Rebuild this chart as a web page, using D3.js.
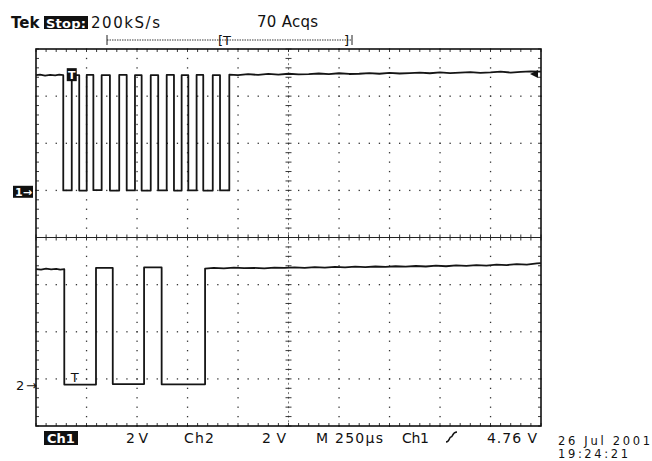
<!DOCTYPE html>
<html>
<head>
<meta charset="utf-8">
<script src="https://cdn.jsdelivr.net/npm/d3@7"></script>
<style>
  body { margin: 0; background: #fff; }
  svg { display: block; font-family: "DejaVu Sans", sans-serif; }
</style>
</head>
<body>
<div id="scope"></div>
<script>
// Time base: 250 µs/div, 10 divs. Both channels 2 V/div.
const timeDomain = [0, 2500];
const voltsPerDiv = 2;

// Channel 1: ground marker offset (divs from centre), edge times (µs), levels (V)
const ch1Offset = 0.97;
const ch1Edges = [135, 177, 214, 251, 284, 325, 366, 412, 449, 490, 523, 568,
                  605, 647, 683, 721, 754, 795, 828, 875, 911, 957];
const ch1High = [4.95, 4.96, 4.95, 4.96, 4.95, 4.95, 4.96, 4.95, 4.96, 4.95, 4.96];
const ch1Low = [0.06, 0.05, 0.07, 0.05, 0.06, 0.05, 0.06, 0.05, 0.06, 0.05, 0.06];
const ch1Lead = [[0, 4.95], [20, 4.97], [45, 4.93], [70, 4.96], [95, 4.94], [115, 4.97], [135, 4.95]];
const ch1Tail = [[957, 4.97], [1000, 4.95], [1050, 4.99], [1100, 4.96], [1150, 5.0], [1200, 4.97],
  [1250, 5.01], [1300, 4.98], [1350, 4.99], [1400, 5.02], [1450, 4.99], [1500, 5.03],
  [1550, 5.0], [1600, 5.01], [1650, 5.04], [1700, 5.01], [1750, 5.05], [1800, 5.02],
  [1850, 5.04], [1900, 5.06], [1950, 5.03], [2000, 5.07], [2050, 5.04], [2100, 5.06],
  [2150, 5.08], [2200, 5.05], [2250, 5.07], [2300, 5.1], [2350, 5.06], [2400, 5.09],
  [2450, 5.11], [2500, 5.1]];

// Channel 2
const ch2Offset = -3.12;
const ch2Edges = [140, 297, 380, 535, 622, 837];
const ch2High = [4.95, 4.97];
const ch2Low = [0.0, 0.02, 0.01];
const ch2Lead = [[0, 4.9], [25, 4.88], [50, 4.92], [75, 4.89], [100, 4.91], [120, 4.88], [140, 4.9]];
const ch2Tail = [[837, 4.92], [880, 4.95], [930, 4.93], [980, 4.96], [1030, 4.94], [1080, 4.95],
  [1130, 4.93], [1180, 4.96], [1230, 4.95], [1280, 4.97], [1330, 4.95], [1380, 4.98],
  [1430, 4.96], [1480, 4.99], [1530, 4.97], [1580, 5.0], [1630, 4.98], [1680, 5.01],
  [1730, 4.99], [1780, 5.02], [1830, 5.0], [1880, 5.03], [1930, 5.01], [1980, 5.05],
  [2030, 5.02], [2080, 5.06], [2130, 5.04], [2180, 5.07], [2230, 5.05], [2280, 5.09],
  [2330, 5.07], [2380, 5.11], [2430, 5.09], [2480, 5.14], [2500, 5.15]];

const triggerLevel = 5.0;

// Text labels
const header = { brand: "Tek", state: "Stop:", rate: "200kS/s", acqs: "70 Acqs" };
const footer = ["2 V", "Ch2", "2 V", "M 250µs", "Ch1", "4.76 V"];
const stamp = ["26 Jul 2001", "19:24:21"];

const width = 652;
const height = 461;
const plotLeft = 36, plotRight = 541, plotTop = 49, plotBottom = 426;

const x = d3.scaleLinear().domain(timeDomain).range([plotLeft, plotRight]);
const yDiv = d3.scaleLinear().domain([-4, 4]).range([plotBottom, plotTop]);
const y1 = v => yDiv(ch1Offset + v / voltsPerDiv);
const y2 = v => yDiv(ch2Offset + v / voltsPerDiv);

const svg = d3.select("#scope").append("svg")
  .attr("width", width)
  .attr("height", height)
  .attr("viewBox", [0, 0, width, height]);

svg.append("rect").attr("width", width).attr("height", height).attr("fill", "#fff");

// Graticule
const grid = svg.append("g").attr("fill", "#333");
const subX = d3.range(0, 10.001, 0.2);
const subY = d3.range(-4, 4.001, 0.2);
const divX = (k) => plotLeft + (plotRight - plotLeft) * k / 10;
// dotted verticals
for (let k = 1; k < 10; k++) {
  if (k === 5) continue;
  grid.selectAll(null).data(subY).join("rect")
    .attr("x", divX(k) - 0.6).attr("y", d => yDiv(d) - 0.6)
    .attr("width", 1.3).attr("height", 1.3);
}
// dotted horizontals
for (let k = -3; k <= 3; k++) {
  if (k === 0) continue;
  grid.selectAll(null).data(subX).join("rect")
    .attr("x", d => divX(d) - 0.6).attr("y", yDiv(k) - 0.6)
    .attr("width", 1.3).attr("height", 1.3);
}

const lines = svg.append("g").attr("stroke", "#222").attr("fill", "none");
// centre cross with ticks
const cx = divX(5), cy = yDiv(0);
lines.append("line").attr("x1", plotLeft).attr("x2", plotRight).attr("y1", cy).attr("y2", cy).attr("stroke-width", 1);
lines.append("line").attr("x1", cx).attr("x2", cx).attr("y1", plotTop).attr("y2", plotBottom)
  .attr("stroke-width", 0.8).attr("stroke", "#555").attr("stroke-dasharray", "2,2.7");
lines.selectAll(null).data(subX).join("line")
  .attr("x1", d => divX(d)).attr("x2", d => divX(d))
  .attr("y1", cy - 3).attr("y2", cy + 3).attr("stroke-width", 0.9);
lines.selectAll(null).data(subY).join("line")
  .attr("y1", d => yDiv(d)).attr("y2", d => yDiv(d))
  .attr("x1", cx - 3).attr("x2", cx + 3).attr("stroke-width", 0.9);
// border ticks
lines.selectAll(null).data(subX).join("line")
  .attr("x1", d => divX(d)).attr("x2", d => divX(d))
  .attr("y1", plotTop).attr("y2", plotTop + 3).attr("stroke-width", 0.9);
lines.selectAll(null).data(subX).join("line")
  .attr("x1", d => divX(d)).attr("x2", d => divX(d))
  .attr("y1", plotBottom).attr("y2", plotBottom - 3).attr("stroke-width", 0.9);
lines.selectAll(null).data(subY).join("line")
  .attr("y1", d => yDiv(d)).attr("y2", d => yDiv(d))
  .attr("x1", plotLeft).attr("x2", plotLeft + 3).attr("stroke-width", 0.9);
lines.selectAll(null).data(subY).join("line")
  .attr("y1", d => yDiv(d)).attr("y2", d => yDiv(d))
  .attr("x1", plotRight).attr("x2", plotRight - 3).attr("stroke-width", 0.9);
lines.append("rect")
  .attr("x", plotLeft).attr("y", plotTop)
  .attr("width", plotRight - plotLeft).attr("height", plotBottom - plotTop)
  .attr("stroke", "#111").attr("stroke-width", 1.6);

// Build a stepped trace from lead readings, edges and tail readings
function buildTrace(lead, edges, highs, lows, tail) {
  const pts = lead.slice(0, -1);
  let high = true, hi = 0, lo = 0;
  edges.forEach((t, i) => {
    const before = i === 0 ? lead[lead.length - 1][1] : (high ? highs[hi - 1] : lows[lo - 1]);
    let after;
    if (i === edges.length - 1) after = tail[0][1];
    else if (high) after = lows[lo++];
    else after = highs[hi++];
    pts.push([t, before], [t, after]);
    high = !high;
  });
  return pts.concat(tail.slice(1));
}

const trace1 = buildTrace(ch1Lead, ch1Edges, ch1High, ch1Low, ch1Tail);
const trace2 = buildTrace(ch2Lead, ch2Edges, ch2High, ch2Low, ch2Tail);

const traces = svg.append("g")
  .attr("fill", "none")
  .attr("stroke", "#151515")
  .attr("stroke-width", 1.8)
  .attr("stroke-linejoin", "round");
traces.append("path").attr("d", d3.line(d => x(d[0]), d => y1(d[1]))(trace1));
traces.append("path").attr("d", d3.line(d => x(d[0]), d => y2(d[1]))(trace2));

// Trigger markers on traces
const tx = x(ch1Edges[1]) - 5;
svg.append("rect").attr("x", tx).attr("y", y1(ch1High[0]) - 7).attr("width", 10).attr("height", 13).attr("fill", "#111");
svg.append("text").attr("x", tx + 5).attr("y", y1(ch1High[0]) + 4).attr("text-anchor", "middle")
  .attr("fill", "#fff").attr("font-size", 11).attr("font-weight", "bold").text("T");
svg.append("text").attr("x", x(ch1Edges[1]) + 3).attr("y", y2(ch2Low[0]) - 3).attr("text-anchor", "middle")
  .attr("fill", "#111").attr("font-size", 13).text("T");
// trigger level arrow on right edge
const ty = y1(triggerLevel);
svg.append("path").attr("d", `M${plotRight - 11},${ty} L${plotRight - 3},${ty - 4} L${plotRight - 3},${ty + 4} Z`).attr("fill", "#111");

// Ground markers
const g1 = y1(0), g2 = y2(0);
svg.append("rect").attr("x", 13).attr("y", g1 - 6).attr("width", 20).attr("height", 12).attr("fill", "#111");
svg.append("text").attr("x", 15).attr("y", g1 + 4.5).attr("fill", "#fff").attr("font-size", 11)
  .attr("font-weight", "bold").text("1→");
svg.append("text").attr("x", 16).attr("y", g2 + 5).attr("fill", "#111").attr("font-size", 13)
  .attr("textLength", 21).text("2→");

// Header
svg.append("text").attr("x", 11).attr("y", 28).attr("font-size", 15).attr("font-weight", "bold")
  .attr("fill", "#111").text(header.brand);
svg.append("rect").attr("x", 44).attr("y", 16).attr("width", 44).attr("height", 13).attr("fill", "#111");
svg.append("text").attr("x", 46).attr("y", 27.5).attr("font-size", 13)
  .attr("font-weight", "bold").attr("fill", "#fff").attr("textLength", 40).text(header.state);
svg.append("text").attr("x", 91).attr("y", 28).attr("font-size", 15).attr("fill", "#111")
  .attr("textLength", 69).text(header.rate);
svg.append("text").attr("x", 257).attr("y", 27).attr("font-size", 15).attr("fill", "#111")
  .attr("textLength", 61).text(header.acqs);

// Record bar
const bar = svg.append("g").attr("stroke", "#222").attr("fill", "none");
bar.append("line").attr("x1", 107).attr("x2", 352).attr("y1", 40).attr("y2", 40)
  .attr("stroke-width", 0.9).attr("stroke-dasharray", "1.5,1");
bar.append("line").attr("x1", 107).attr("x2", 107).attr("y1", 35).attr("y2", 45).attr("stroke-width", 1);
bar.append("line").attr("x1", 352).attr("x2", 352).attr("y1", 35).attr("y2", 45).attr("stroke-width", 1);
svg.append("text").attr("x", 218).attr("y", 45).attr("font-size", 13).attr("fill", "#111").text("[T");
svg.append("text").attr("x", 344).attr("y", 45).attr("font-size", 13).attr("fill", "#111").text("]");

// Footer
svg.append("rect").attr("x", 44).attr("y", 431).attr("width", 34).attr("height", 14).attr("fill", "#111");
svg.append("text").attr("x", 61).attr("y", 443).attr("text-anchor", "middle").attr("font-size", 13)
  .attr("font-weight", "bold").attr("fill", "#fff").text("Ch1");
const footX = [126, 184, 262, 316, 402, 487];
const footW = [22, 30, 24, 67, 27, 50];
footer.forEach((t, i) => {
  svg.append("text").attr("x", footX[i]).attr("y", 443).attr("font-size", 14).attr("fill", "#111")
    .attr("textLength", footW[i]).text(t);
});
// rising-edge symbol
svg.append("path").attr("d", "M446,442 C450,442 449,437 451,437 C453,437 452,432 457,432").attr("stroke", "#111")
  .attr("stroke-width", 1.5).attr("fill", "none");

svg.append("text").attr("x", 558).attr("y", 445).attr("font-size", 11.5).attr("fill", "#111")
  .attr("textLength", 92).text(stamp[0]);
svg.append("text").attr("x", 558).attr("y", 458).attr("font-size", 11.5).attr("fill", "#111")
  .attr("textLength", 70).text(stamp[1]);
</script>
</body>
</html>
